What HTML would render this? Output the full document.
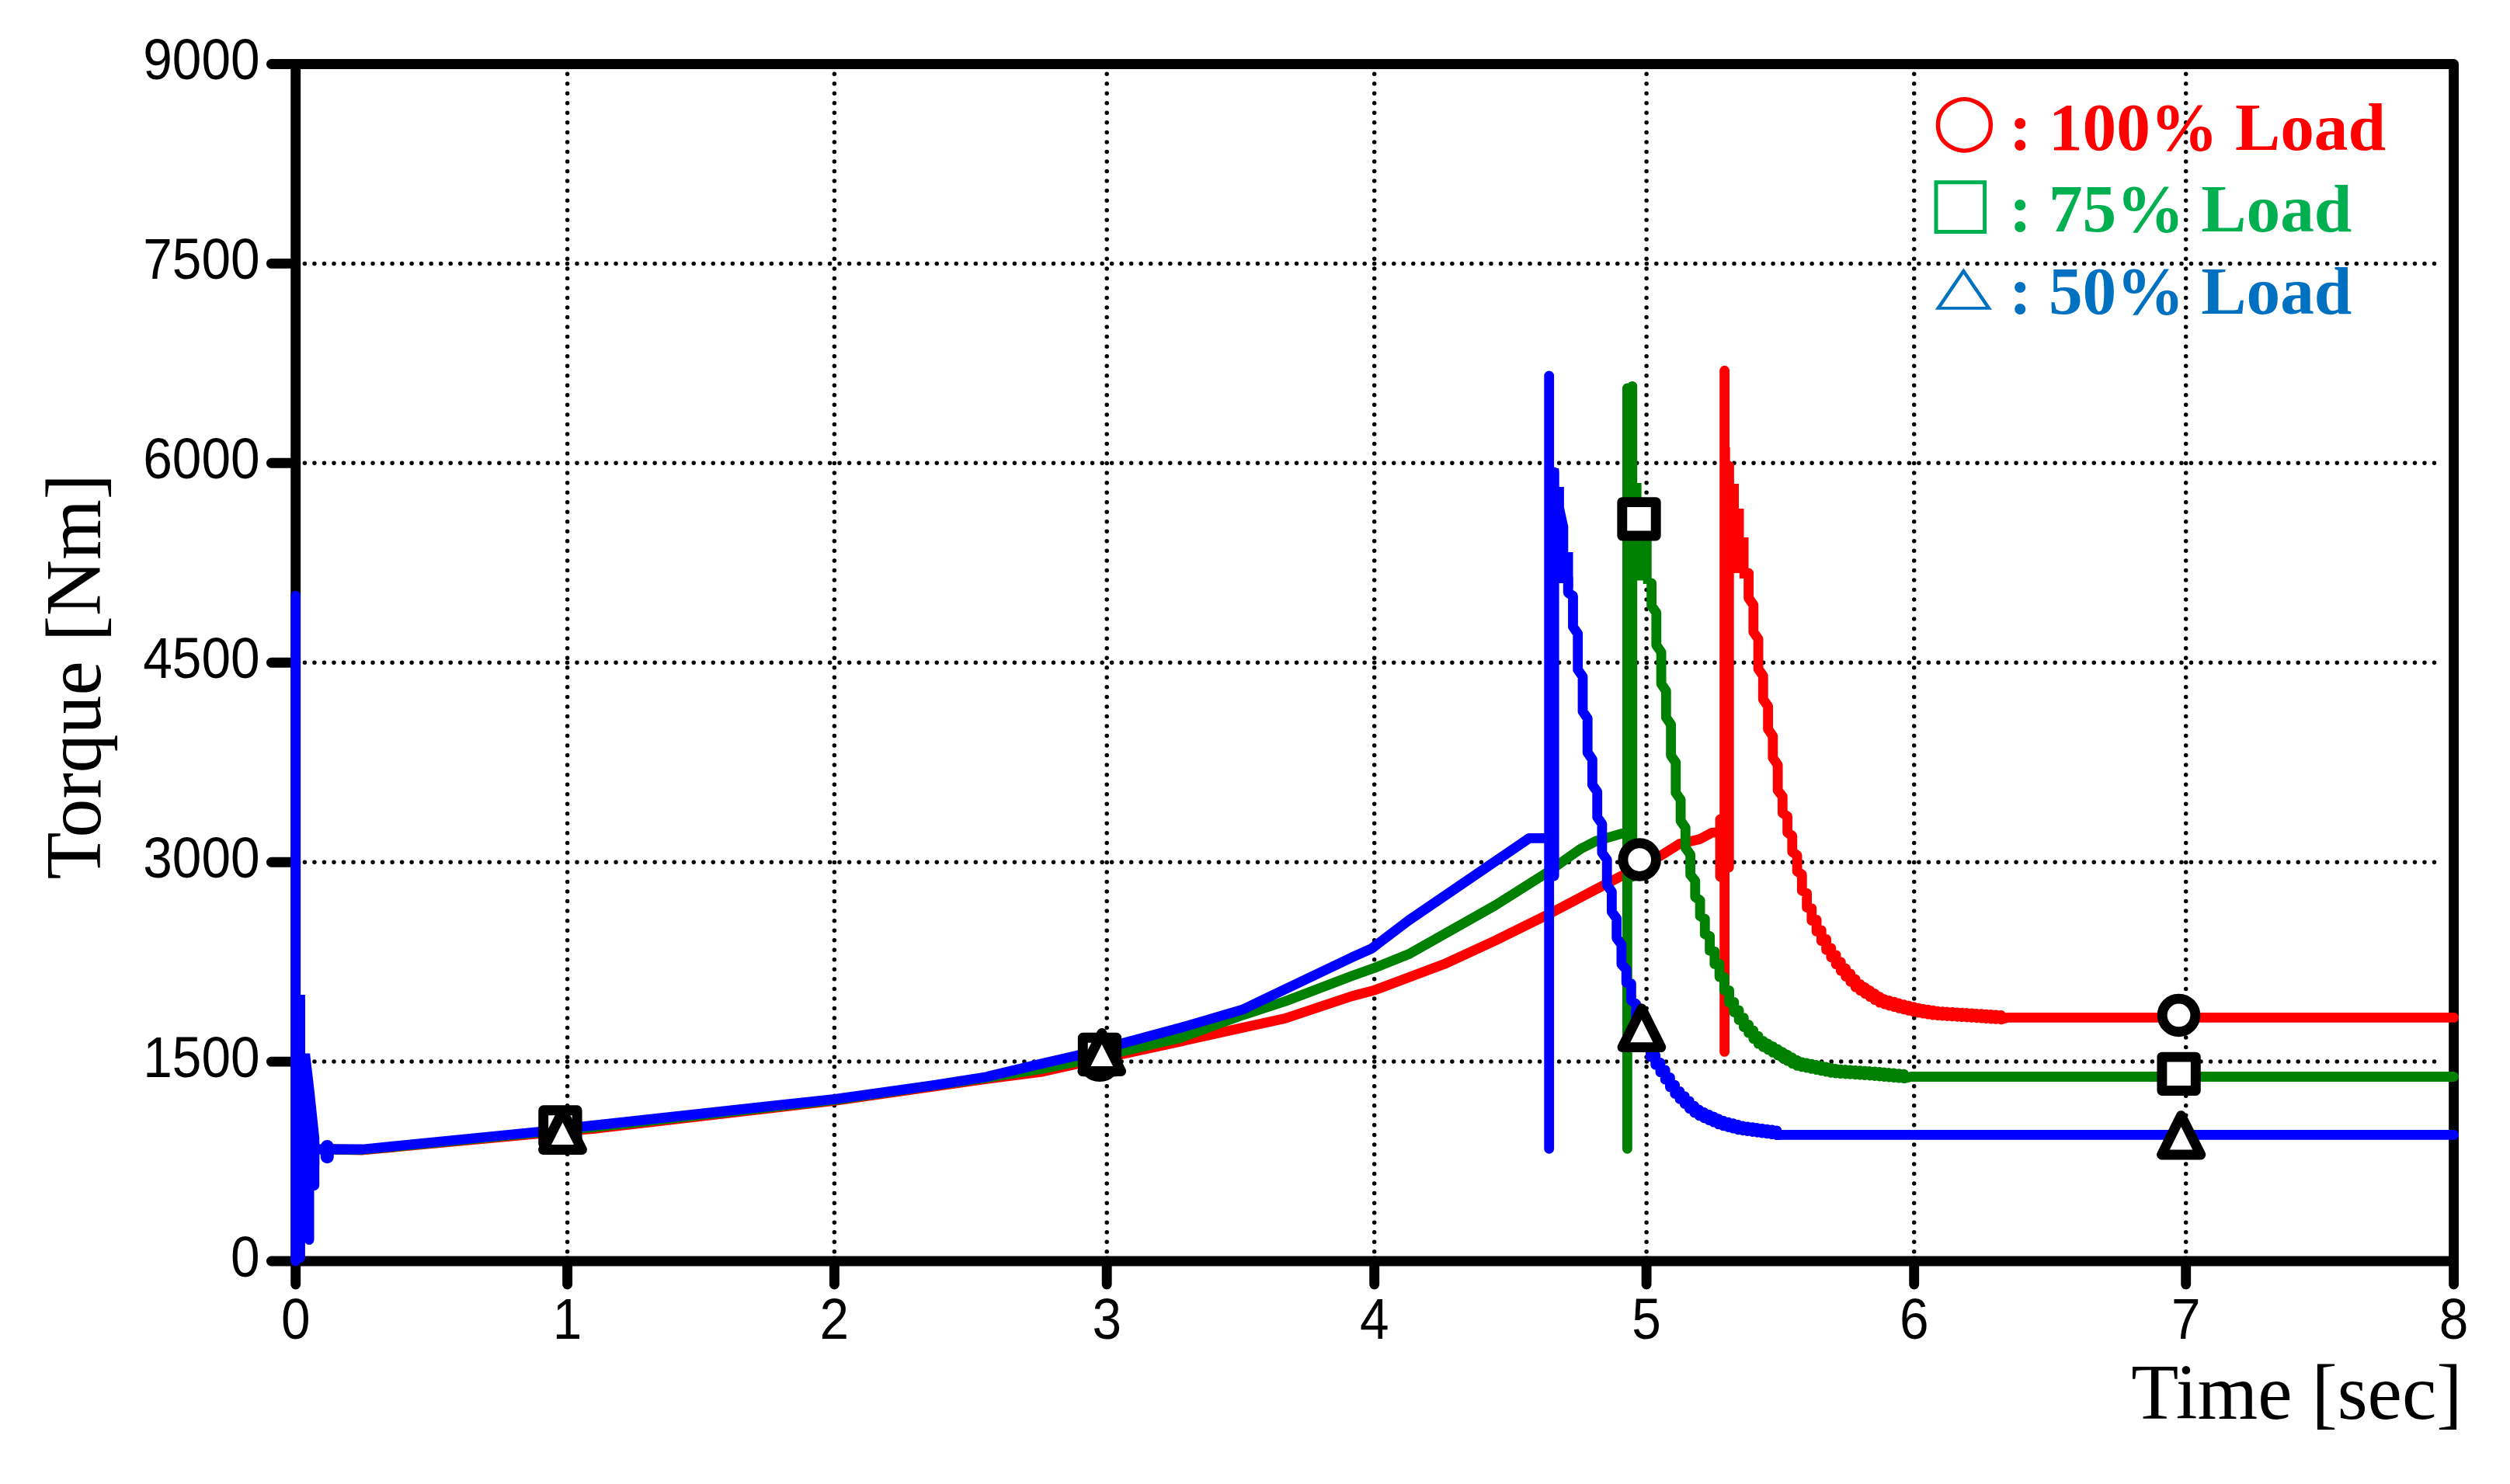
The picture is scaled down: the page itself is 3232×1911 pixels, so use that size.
<!DOCTYPE html>
<html lang="en"><head><meta charset="utf-8"><title>Torque vs Time</title>
<style>html,body{margin:0;padding:0;background:#fff}body{width:3232px;height:1911px;overflow:hidden}svg{display:block}
.tk{font-family:"Liberation Sans",Arial,sans-serif;font-size:67.6px;fill:#000}
.ax{font-family:"Liberation Serif","Times New Roman",serif;font-size:99.85px;fill:#000}
.lg{font-family:"Liberation Serif","Times New Roman",serif;font-size:87.3px;font-weight:bold}
</style></head><body>
<svg width="3232" height="1911" viewBox="0 0 3232 1911">
<rect width="3232" height="1911" fill="#fff"/>
<g stroke="#000" stroke-width="5.5" stroke-linecap="round" fill="none">
<path stroke-dasharray="0 12.521" d="M392.4 1367.1 H3137"/>
<path stroke-dasharray="0 12.521" d="M392.4 1110.2 H3137"/>
<path stroke-dasharray="0 12.521" d="M392.4 853.2 H3137"/>
<path stroke-dasharray="0 12.521" d="M392.4 596.3 H3137"/>
<path stroke-dasharray="0 12.521" d="M392.4 339.4 H3137"/>
<path stroke-dasharray="0 12.534" d="M730.6 95.2 V1614"/>
<path stroke-dasharray="0 12.534" d="M1074.4 95.2 V1614"/>
<path stroke-dasharray="0 12.534" d="M1425.2 95.2 V1614"/>
<path stroke-dasharray="0 12.534" d="M1769.7 95.2 V1614"/>
<path stroke-dasharray="0 12.534" d="M2120.1 95.2 V1614"/>
<path stroke-dasharray="0 12.534" d="M2464.7 95.2 V1614"/>
<path stroke-dasharray="0 12.534" d="M2814.7 95.2 V1614"/>
</g>
<g stroke="#000" stroke-width="12.9" fill="none" stroke-linecap="round">
<path d="M380.7 82.5 H3159.6 V1624.0 H380.7 Z" stroke-linejoin="round" stroke-linecap="butt"/>
<path d="M349.4 1624.0 H380.7"/>
<path d="M349.4 1367.1 H380.7"/>
<path d="M349.4 1110.2 H380.7"/>
<path d="M349.4 853.2 H380.7"/>
<path d="M349.4 596.3 H380.7"/>
<path d="M349.4 339.4 H380.7"/>
<path d="M349.4 82.5 H380.7"/>
<path d="M380.7 1624.0 V1654"/>
<path d="M730.6 1624.0 V1654"/>
<path d="M1074.4 1624.0 V1654"/>
<path d="M1425.2 1624.0 V1654"/>
<path d="M1769.7 1624.0 V1654"/>
<path d="M2120.1 1624.0 V1654"/>
<path d="M2464.7 1624.0 V1654"/>
<path d="M2814.7 1624.0 V1654"/>
<path d="M3159.6 1624.0 V1654"/>
</g>
<g class="tk" text-anchor="end">
<text transform="translate(334.6 1643.6) scale(1 1.085)">0</text>
<text transform="translate(334.6 1386.7) scale(1 1.085)">1500</text>
<text transform="translate(334.6 1129.8) scale(1 1.085)">3000</text>
<text transform="translate(334.6 872.9) scale(1 1.085)">4500</text>
<text transform="translate(334.6 615.9) scale(1 1.085)">6000</text>
<text transform="translate(334.6 359.0) scale(1 1.085)">7500</text>
<text transform="translate(334.6 102.1) scale(1 1.085)">9000</text>
</g>
<g class="tk" text-anchor="middle">
<text transform="translate(380.7 1723.8) scale(1 1.085)">0</text>
<text transform="translate(730.6 1723.8) scale(1 1.085)">1</text>
<text transform="translate(1074.4 1723.8) scale(1 1.085)">2</text>
<text transform="translate(1425.2 1723.8) scale(1 1.085)">3</text>
<text transform="translate(1769.7 1723.8) scale(1 1.085)">4</text>
<text transform="translate(2120.1 1723.8) scale(1 1.085)">5</text>
<text transform="translate(2464.7 1723.8) scale(1 1.085)">6</text>
<text transform="translate(2814.7 1723.8) scale(1 1.085)">7</text>
<text transform="translate(3159.6 1723.8) scale(1 1.085)">8</text>
</g>
<text class="ax" transform="translate(3170.5 1826.6) scale(1 1.018)" text-anchor="end">Time [sec]</text>
<text class="ax" transform="translate(129.3 1132.5) rotate(-90) scale(1 1.018)">Torque [Nm]</text>
<g stroke="#ff0000" fill="none" stroke-width="12.8" stroke-linecap="round" stroke-linejoin="round">
<polyline points="430.0,1480.0 467.0,1481.0 693.0,1460.0 760.0,1454.0 1075.0,1417.5 1270.0,1389.5 1340.0,1380.4 1387.0,1369.9 1520.0,1341.2 1599.7,1323.5 1654.6,1311.5 1740.0,1283.0 1769.9,1275.1 1859.5,1241.6 1925.3,1211.3 1989.0,1179.8 2068.7,1138.0 2138.4,1101.8 2162.3,1086.8 2188.2,1080.8 2204.1,1072.3 2212.5,1071.7 2220.6,1071.7"/>
<path d="M2220.6 1354.4 V477.2"/>
<path d="M2226.3 1117.0 V600.0"/>
<path d="M2215.0 1129.0 V1055.0"/>
<polygon points="2220.6,576.0 2227.7,576.0 2227.7,596.6 2232.6,596.6 2232.6,623.0 2239.0,623.0 2239.0,655.0 2245.5,655.0 2245.5,692.0 2251.5,692.0 2251.5,736.0 2257.9,736.0 2257.9,745.0 2239.8,745.0 2239.8,738.0 2220.6,738.0" fill="#ff0000" stroke="none"/>
<polyline points="2251.6,738.0 2251.6,770.0 2257.8,779.0 2257.8,813.8 2264.1,822.8 2264.1,861.4 2270.3,870.4 2270.3,900.5 2276.6,909.5 2276.6,938.9 2282.8,947.9 2282.8,975.8 2289.1,984.8 2289.1,1017.7 2295.3,1025.7 2295.3,1046.9 2301.6,1051.3 2301.6,1072.2 2307.8,1076.4 2307.8,1097.2 2314.1,1101.3 2314.1,1122.2 2320.3,1126.2 2320.3,1146.9 2326.6,1150.3 2326.6,1168.6 2332.8,1169.7 2332.8,1185.4 2339.1,1184.4 2339.1,1199.4 2345.3,1197.8 2345.3,1211.7 2351.6,1209.4 2351.6,1223.2 2357.8,1220.9 2357.8,1232.8 2364.1,1229.8 2364.1,1241.7 2370.3,1238.7 2370.3,1250.1 2376.6,1247.0 2376.6,1257.4 2382.8,1253.9 2382.8,1264.3 2389.1,1260.8 2389.1,1271.1 2395.3,1267.5 2395.3,1275.7 2401.6,1271.5 2401.6,1279.7 2407.8,1275.5 2407.8,1283.7 2414.1,1279.5 2414.1,1287.7 2420.3,1283.5 2420.3,1291.1 2426.6,1286.7 2426.6,1293.2 2432.8,1288.5 2432.8,1295.0 2439.1,1290.2 2439.1,1296.7 2445.3,1292.0 2445.3,1298.4 2451.6,1293.6 2451.6,1299.9 2457.8,1295.1 2457.8,1301.4 2464.1,1296.6 2464.1,1302.9 2470.3,1298.1 2470.3,1304.2 2476.6,1299.3 2476.6,1305.2 2482.8,1300.2 2482.8,1306.1 2489.1,1301.2 2489.1,1307.1 2495.3,1302.1 2495.3,1307.7 2501.6,1302.7 2501.6,1308.1 2507.8,1303.0 2507.8,1308.5 2514.1,1303.4 2514.1,1308.9 2520.3,1303.8 2520.3,1309.3 2526.6,1304.2 2526.6,1309.6 2532.8,1304.5 2532.8,1310.0 2539.1,1304.9 2539.1,1310.4 2545.3,1305.3 2545.3,1310.8 2551.6,1305.7 2551.6,1311.2 2557.8,1306.1 2557.8,1311.6 2564.1,1306.5 2564.1,1312.0 2570.3,1306.9 2570.3,1312.4 2576.6,1307.3 2576.6,1312.8 2585.0,1310.4 3159.6,1310.4"/>
</g>
<g stroke="#008000" fill="none" stroke-width="12.8" stroke-linecap="round" stroke-linejoin="round">
<polyline points="430.0,1480.0 467.0,1480.5 693.0,1458.5 760.0,1452.0 1075.0,1416.5 1270.0,1388.0 1340.0,1376.8 1387.0,1367.3 1520.0,1336.4 1599.7,1307.3 1654.6,1289.5 1740.0,1257.1 1769.5,1246.5 1813.7,1228.8 1925.3,1165.9 1989.0,1125.7 2034.8,1093.4 2054.7,1083.2 2088.6,1073.3 2095.4,1073.0"/>
<path d="M2095.4 1479.3 V500.0"/>
<path d="M2101.8 1129.0 V497.3"/>
<polygon points="2095.4,560.0 2108.0,560.0 2108.0,622.0 2113.6,622.0 2113.6,650.0 2120.0,650.0 2120.0,680.0 2126.7,680.0 2126.7,752.0 2115.7,752.0 2115.7,747.5 2095.4,747.5" fill="#008000" stroke="none"/>
<polyline points="2126.6,751.0 2126.6,780.2 2132.8,789.2 2132.8,830.8 2139.1,839.8 2139.1,880.6 2145.3,889.6 2145.3,923.8 2151.6,932.8 2151.6,972.8 2157.8,981.8 2157.8,1020.9 2164.1,1029.9 2164.1,1057.0 2170.3,1066.0 2170.3,1091.8 2176.6,1100.5 2176.6,1126.6 2182.8,1134.3 2182.8,1155.2 2189.1,1159.3 2189.1,1179.7 2195.3,1183.2 2195.3,1202.9 2201.6,1205.7 2201.6,1224.2 2207.8,1225.4 2207.8,1241.4 2214.1,1241.2 2214.1,1258.1 2220.3,1258.5 2220.3,1275.3 2226.6,1275.3 2226.6,1291.3 2232.8,1290.4 2232.8,1303.5 2239.1,1301.0 2239.1,1313.4 2245.3,1310.6 2245.3,1322.5 2251.6,1319.5 2251.6,1330.2 2257.8,1326.9 2257.8,1337.6 2264.1,1334.2 2264.1,1344.1 2270.3,1340.4 2270.3,1348.3 2276.6,1344.0 2276.6,1351.8 2282.8,1347.5 2282.8,1355.4 2289.1,1351.1 2289.1,1359.0 2295.3,1354.7 2295.3,1362.5 2301.6,1358.2 2301.6,1366.1 2307.8,1361.8 2307.8,1369.7 2314.1,1365.4 2314.1,1372.4 2320.3,1367.8 2320.3,1373.9 2326.6,1369.0 2326.6,1375.1 2332.8,1370.2 2332.8,1376.4 2339.1,1371.5 2339.1,1377.6 2345.3,1372.7 2345.3,1378.9 2351.6,1374.0 2351.6,1380.1 2357.8,1375.2 2357.8,1381.4 2364.1,1376.5 2364.1,1382.1 2370.3,1377.1 2370.3,1382.6 2376.6,1377.5 2376.6,1383.0 2382.8,1377.9 2382.8,1383.4 2389.1,1378.3 2389.1,1383.8 2395.3,1378.7 2395.3,1384.2 2401.6,1379.1 2401.6,1384.6 2407.8,1379.5 2407.8,1385.0 2414.1,1379.9 2414.1,1385.5 2420.3,1380.4 2420.3,1386.0 2426.6,1381.0 2426.6,1386.6 2432.8,1381.5 2432.8,1387.1 2439.1,1382.0 2439.1,1387.6 2445.3,1382.6 2445.3,1388.2 2451.6,1383.1 2451.6,1388.7 2461.0,1386.5 3159.6,1386.5"/>
</g>
<polygon fill="#0000ff" points="380.0,1281.0 392.9,1281.0 392.9,1356.5 399.1,1356.5 404.5,1402.3 411.2,1465.6 411.2,1500.0 380.0,1500.0"/>
<g stroke="#0000ff" stroke-width="12.7" stroke-linecap="round" fill="none">
<path d="M380.65 767.2 V1624"/>
<path d="M386.55 1290 V1619.6"/>
<path d="M398.15 1412 V1596.6"/>
<path d="M404.85 1474 V1526.6"/>
<path d="M421.3 1476.6 V1489.7" stroke-width="17"/>
</g>
<g stroke="#0000ff" fill="none" stroke-width="12.8" stroke-linecap="round" stroke-linejoin="round">
<polyline points="408.0,1480.0 467.0,1480.0 693.0,1457.5 760.0,1449.7 1075.0,1415.3 1200.0,1397.9 1270.0,1386.7 1340.0,1370.0 1387.0,1359.2 1520.0,1323.5 1599.7,1300.2 1740.0,1233.2 1765.9,1221.7 1813.7,1185.4 1969.1,1079.4 1994.7,1079.4"/>
<path d="M1994.7 1479.3 V484.0"/>
<path d="M2001.2 1128.0 V608.0"/>
<polygon points="1994.7,603.0 2007.3,603.0 2007.3,627.0 2013.9,627.0 2013.9,653.0 2019.3,678.0 2019.3,711.0 2025.5,711.0 2025.5,757.0 2013.9,757.0 2013.9,751.0 1994.7,751.0" fill="#0000ff" stroke="none"/>
<polyline points="2019.2,743.9 2019.2,763.3 2025.5,767.4 2025.5,807.2 2031.7,816.2 2031.7,862.4 2038.0,871.4 2038.0,916.2 2044.2,925.2 2044.2,969.0 2050.4,978.0 2050.4,1010.7 2056.7,1019.7 2056.7,1052.2 2062.9,1061.2 2062.9,1098.1 2069.2,1107.1 2069.2,1139.4 2075.4,1148.4 2075.4,1174.3 2081.7,1182.9 2081.7,1208.1 2087.9,1216.4 2087.9,1241.7 2094.2,1248.2 2094.2,1265.3 2100.4,1266.8 2100.4,1288.3 2106.7,1292.9 2106.7,1314.0 2112.9,1317.2 2112.9,1333.6 2119.2,1333.1 2119.2,1348.3 2125.4,1346.8 2125.4,1361.0 2131.7,1358.9 2131.7,1371.2 2137.9,1368.4 2137.9,1380.6 2144.2,1377.8 2144.2,1390.2 2150.4,1387.4 2150.4,1399.9 2156.7,1397.1 2156.7,1408.5 2162.9,1405.4 2162.9,1415.3 2169.2,1411.6 2169.2,1421.5 2175.4,1417.9 2175.4,1427.7 2181.7,1424.1 2181.7,1432.9 2187.9,1428.9 2187.9,1436.8 2194.2,1432.4 2194.2,1439.8 2200.4,1435.3 2200.4,1442.5 2206.7,1438.0 2206.7,1445.2 2212.9,1440.7 2212.9,1447.9 2219.2,1443.3 2219.2,1449.9 2225.4,1445.1 2225.4,1451.5 2231.7,1446.7 2231.7,1453.2 2237.9,1448.4 2237.9,1454.8 2244.2,1450.0 2244.2,1455.8 2250.4,1450.8 2250.4,1456.6 2256.7,1451.6 2256.7,1457.5 2262.9,1452.5 2262.9,1458.3 2269.2,1453.3 2269.2,1459.1 2275.4,1454.1 2275.4,1459.9 2281.7,1454.9 2281.7,1460.8 2287.9,1455.8 2287.9,1461.7 2298.0,1461.4 3159.6,1461.4"/>
</g>
<g stroke="#000" stroke-width="12.9" fill="#fff" stroke-linejoin="round">
<circle cx="721.4" cy="1454.0" r="21.3"/>
<rect x="699.7" y="1429.7" width="43.4" height="43.4"/>
<path d="M724.5 1431.0 L699.5 1480.5 L749.5 1480.5 Z"/>
<circle cx="1416.0" cy="1365.3" r="21.3"/>
<rect x="1394.3" y="1336.3" width="43.4" height="43.4"/>
<path d="M1418.8 1330.5 L1394.0 1379.5 L1443.6 1379.5 Z"/>
<circle cx="2111.2" cy="1107.1" r="21.3"/>
<rect x="2088.8" y="646.6" width="43.4" height="43.4"/>
<path d="M2113.9 1298.8 L2089.0 1348.6 L2138.8 1348.6 Z"/>
<circle cx="2805.5" cy="1307.4" r="21.3"/>
<rect x="2783.9" y="1361.1" width="43.4" height="43.4"/>
<path d="M2808.5 1436.6 L2783.5 1487.0 L2833.8 1487.0 Z"/>
</g>
<g font-family="DejaVu Sans,sans-serif" font-size="100">
<text transform="translate(2487.6 185.3) scale(0.96 0.931)" fill="#ff0000">○</text>
<text transform="translate(2482.4 290.4) scale(0.888 0.895)" fill="#00b050">□</text>
<text transform="translate(2491.4 389.9) scale(0.959 0.699)" fill="#0070c0">△</text>
</g>
<text class="lg" x="2587" y="192.9" fill="#ff0000">: 100% Load</text>
<text class="lg" x="2587" y="297.5" fill="#00b050">: 75% Load</text>
<text class="lg" x="2587" y="403.5" fill="#0070c0">: 50% Load</text>
</svg></body></html>
